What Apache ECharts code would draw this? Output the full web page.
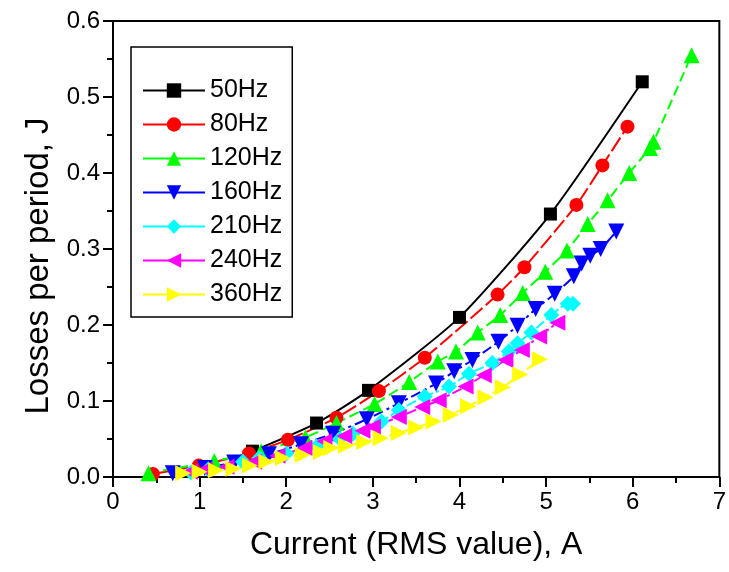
<!DOCTYPE html>
<html>
<head>
<meta charset="utf-8">
<script src="https://cdn.jsdelivr.net/npm/echarts@6/dist/echarts.min.js"></script>
<style>html,body{margin:0;padding:0;background:#fff}#c{width:729px;height:572px}</style>
</head>
<body>
<div id="c"></div>
<script>
var seriesNames = ['50Hz','80Hz','120Hz','160Hz','210Hz','240Hz','360Hz'];
var colors = ['#000000','#ff0000','#00ff00','#0000ff','#00ffff','#ff00ff','#ffff00'];
var xTicks = [0,1,2,3,4,5,6,7];
var yTicks = [0.0,0.1,0.2,0.3,0.4,0.5,0.6];

var d50 = [[1.61,0.034],[2.35,0.071],[2.95,0.114],[4.0,0.21],[5.05,0.346],[6.11,0.52]];
var d80 = [[0.46,0.004],[0.99,0.015],[1.57,0.031],[2.02,0.049],[2.58,0.078],[3.07,0.113],[3.6,0.157],[4.44,0.24],[4.75,0.276],[5.35,0.358],[5.65,0.41],[5.94,0.461]];
var d120 = [[0.41,0.005],[1.17,0.021],[1.71,0.034],[2.22,0.052],[2.58,0.071],[3.02,0.096],[3.42,0.125],[3.75,0.152],[3.96,0.165],[4.21,0.19],[4.47,0.213],[4.73,0.242],[4.99,0.27],[5.24,0.298],[5.48,0.333],[5.71,0.364],[5.96,0.40],[6.2,0.433],[6.24,0.441],[6.68,0.555]];
var d160 = [[0.69,0.005],[1.06,0.012],[1.40,0.019],[1.8,0.03],[2.17,0.043],[2.54,0.057],[2.93,0.076],[3.30,0.097],[3.73,0.123],[3.94,0.139],[4.15,0.154],[4.45,0.178],[4.67,0.199],[4.88,0.221],[5.10,0.241],[5.32,0.264],[5.41,0.281],[5.51,0.291],[5.63,0.30],[5.81,0.323]];
var d210 = [[0.9,0.006],[1.1,0.01],[1.5,0.02],[1.69,0.025],[2.0,0.031],[2.35,0.04],[2.62,0.05],[2.77,0.057],[3.1,0.073],[3.30,0.088],[3.6,0.106],[3.88,0.119],[4.11,0.136],[4.38,0.15],[4.57,0.165],[4.67,0.176],[4.83,0.19],[5.06,0.213],[5.25,0.228],[5.31,0.228]];
var d240 = [[0.89,0.007],[1.06,0.01],[1.31,0.0135],[1.63,0.02],[1.9,0.028],[2.21,0.038],[2.44,0.047],[2.67,0.054],[2.88,0.061],[3.0,0.066],[3.3,0.079],[3.57,0.092],[3.76,0.101],[4.07,0.119],[4.28,0.134],[4.53,0.154],[4.72,0.167],[4.92,0.185],[5.13,0.203]];
var d360 = [[0.81,0.005],[1.0,0.007],[1.19,0.009],[1.39,0.011],[1.58,0.015],[1.77,0.02],[1.96,0.025],[2.19,0.029],[2.40,0.033],[2.52,0.038],[2.69,0.041],[2.90,0.046],[3.09,0.051],[3.3,0.058],[3.5,0.065],[3.7,0.073],[3.9,0.082],[4.1,0.093],[4.3,0.105],[4.5,0.118],[4.7,0.135],[4.93,0.155]];

var allData = [d50,d80,d120,d160,d210,d240,d360];
var symbols = ['rect','circle','triangle','triangle','diamond','triangle','triangle'];
var rotates = [0,0,0,180,0,90,-90];
var sizes = [13,14,16,16,16,16,16];
var dashes = ['solid',[16,4],[10,5],[10,4,3,4],[10,3,3,3],[10,3,3,3,3,3],[10,4]];

var FONT = 'Liberation Sans, Arial, sans-serif';
var chart = echarts.init(document.getElementById('c'), null, {renderer:'canvas'});

var series = seriesNames.map(function(n,i){
  return {
    name:n, type:'line', data:allData[i], smooth:0.2,
    symbol:symbols[i], symbolRotate:rotates[i], symbolSize:sizes[i],
    showAllSymbol:true,
    lineStyle:{color:colors[i], width:2, type:dashes[i]},
    itemStyle:{color:colors[i]},
    emphasis:{disabled:true}, animation:false
  };
});

chart.setOption({
  animation:false,
  backgroundColor:'#fff',
  grid:{left:113, right:8, top:21, bottom:95, show:true, borderColor:'#000', borderWidth:2},
  legend:{
    orient:'vertical', left:131, top:47,
    data:seriesNames,
    itemWidth:62, itemHeight:18, itemGap:9,
    padding:[31,10,10,11],
    borderColor:'#000', borderWidth:1.5,
    lineStyle:{type:'solid'},
    textStyle:{fontFamily:FONT, fontSize:25, color:'#000', lineHeight:24},
    selectedMode:false
  },
  xAxis:{
    type:'value', min:0, max:7, interval:1,
    name:'Current (RMS value), A', nameLocation:'middle', nameGap:52,
    nameTextStyle:{fontFamily:FONT, fontSize:32, color:'#000'},
    axisLine:{lineStyle:{color:'#000', width:2}},
    axisTick:{inside:false, length:10, lineStyle:{color:'#000', width:2}},
    minorTick:{show:true, splitNumber:2, length:6, lineStyle:{color:'#000', width:2}},
    splitLine:{show:false},
    axisLabel:{fontFamily:FONT, fontSize:24, color:'#000', margin:13,
      formatter:function(v){return xTicks.indexOf(v)>=0?String(v):'';}}
  },
  yAxis:{
    type:'value', min:0, max:0.6, interval:0.1,
    name:'Losses per period, J', nameLocation:'middle', nameGap:58,
    nameTextStyle:{fontFamily:FONT, fontSize:33, color:'#000', padding:[0,34,0,0]},
    axisLine:{lineStyle:{color:'#000', width:2}},
    axisTick:{inside:false, length:10, lineStyle:{color:'#000', width:2}},
    minorTick:{show:true, splitNumber:2, length:6, lineStyle:{color:'#000', width:2}},
    splitLine:{show:false},
    axisLabel:{fontFamily:FONT, fontSize:24, color:'#000', margin:13,
      formatter:function(v){return v.toFixed(1);}}
  },
  series:series
});
</script>
</body>
</html>
